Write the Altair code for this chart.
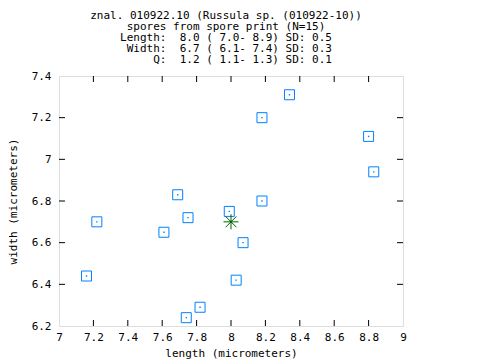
import altair as alt
import pandas as pd

# Spore measurements (micrometers)
lengths = [7.16, 7.22, 7.61, 7.69, 7.75, 7.74, 7.82, 7.99, 8.03, 8.07, 8.18, 8.18, 8.34, 8.80, 8.83]
widths = [6.44, 6.70, 6.65, 6.83, 6.72, 6.24, 6.29, 6.75, 6.42, 6.60, 7.20, 6.80, 7.31, 7.11, 6.94]
mean_length = [8.0]
mean_width = [6.7]

x_ticks = [7.0, 7.2, 7.4, 7.6, 7.8, 8.0, 8.2, 8.4, 8.6, 8.8, 9.0]
y_ticks = [6.2, 6.4, 6.6, 6.8, 7.0, 7.2, 7.4]

title_lines = [
    "znal. 010922.10 (Russula sp. (010922-10))",
    "spores from spore print (N=15)",
    "Length:  8.0 ( 7.0- 8.9) SD: 0.5",
    " Width:  6.7 ( 6.1- 7.4) SD: 0.3",
    "     Q:  1.2 ( 1.1- 1.3) SD: 0.1",
]
title_lines = ["\u200b" + s.replace(" ", "\u00a0") + "\u200b" for s in title_lines]

FONT = "DejaVu Sans Mono"
FS = 11
W, H = 344, 250
BLUE = "#0080ff"
GREEN = "#006400"

df = pd.DataFrame({"length": lengths, "width": widths})
dmean = pd.DataFrame({"length": mean_length, "width": mean_width})
dx = pd.DataFrame({"t": x_ticks[1:-1]})
dy = pd.DataFrame({"t": y_ticks[1:-1]})

xs = alt.Scale(domain=[7, 9], nice=False, zero=False)
ys = alt.Scale(domain=[6.2, 7.4], nice=False, zero=False)

xaxis = alt.Axis(values=x_ticks, format="~g", title="length (micrometers)", grid=False,
                 ticks=False, domain=False, labelFont=FONT, labelFontSize=FS, labelColor="black",
                 titleFont=FONT, titleFontSize=FS, titleFontWeight="normal", titleColor="black",
                 labelPadding=5, titlePadding=5, labelFlush=False, labelOverlap=False,
                 labelBound=False)
yaxis = alt.Axis(values=y_ticks, format="~g", title="width (micrometers)", grid=False,
                 ticks=False, domain=False, labelFont=FONT, labelFontSize=FS, labelColor="black",
                 titleFont=FONT, titleFontSize=FS, titleFontWeight="normal", titleColor="black",
                 labelPadding=8, titlePadding=13, labelFlush=False, labelOverlap=False)


def X(field):
    return alt.X(field, scale=xs, axis=xaxis)


def Y(field):
    return alt.Y(field, scale=ys, axis=yaxis)


boxes = alt.Chart(df).mark_point(shape="square", filled=False, color=BLUE, size=100,
                                 strokeWidth=1, opacity=1).encode(
    x=X("length:Q"), y=Y("width:Q"))
dots = alt.Chart(df).mark_point(shape="square", filled=True, color=BLUE, size=2, opacity=1).encode(
    x=X("length:Q"), y=Y("width:Q"))
star_path = "M-1,0L1,0M0,-1L0,1M-0.72,-0.72L0.72,0.72M-0.72,0.72L0.72,-0.72"
star = alt.Chart(dmean).mark_point(shape=star_path, filled=False, color=GREEN, size=225,
                                   strokeWidth=1, opacity=1).encode(
    x=X("length:Q"), y=Y("width:Q"))
star_dot = alt.Chart(dmean).mark_point(shape="square", filled=True, color=GREEN, size=4, opacity=1).encode(
    x=X("length:Q"), y=Y("width:Q"))

tick_b = alt.Chart(dx).mark_rule(color="black", strokeWidth=1).encode(
    x=X("t:Q"), y=alt.value(H), y2=alt.value(H - 6))
tick_t = alt.Chart(dx).mark_rule(color="black", strokeWidth=1).encode(
    x=X("t:Q"), y=alt.value(0), y2=alt.value(6))
tick_l = alt.Chart(dy).mark_rule(color="black", strokeWidth=1).encode(
    y=Y("t:Q"), x=alt.value(0), x2=alt.value(6))
tick_r = alt.Chart(dy).mark_rule(color="black", strokeWidth=1).encode(
    y=Y("t:Q"), x=alt.value(W), x2=alt.value(W - 6))

chart = alt.layer(boxes, tick_b, tick_t, tick_l, tick_r, dots, star, star_dot).properties(
    width=W, height=H,
    title=alt.TitleParams(text=title_lines, font=FONT, fontSize=FS, fontWeight="normal",
                          color="black", lineHeight=11, anchor="middle", frame="group",
                          dx=-5, offset=5),
    autosize=alt.AutoSizeParams(type="none"),
    padding={"left": 51, "top": 68, "right": 69, "bottom": 34},
).configure_view(stroke="black", strokeWidth=1).configure(background="white")

chart.save("out.html", embed_options={"renderer": "svg", "actions": False})
